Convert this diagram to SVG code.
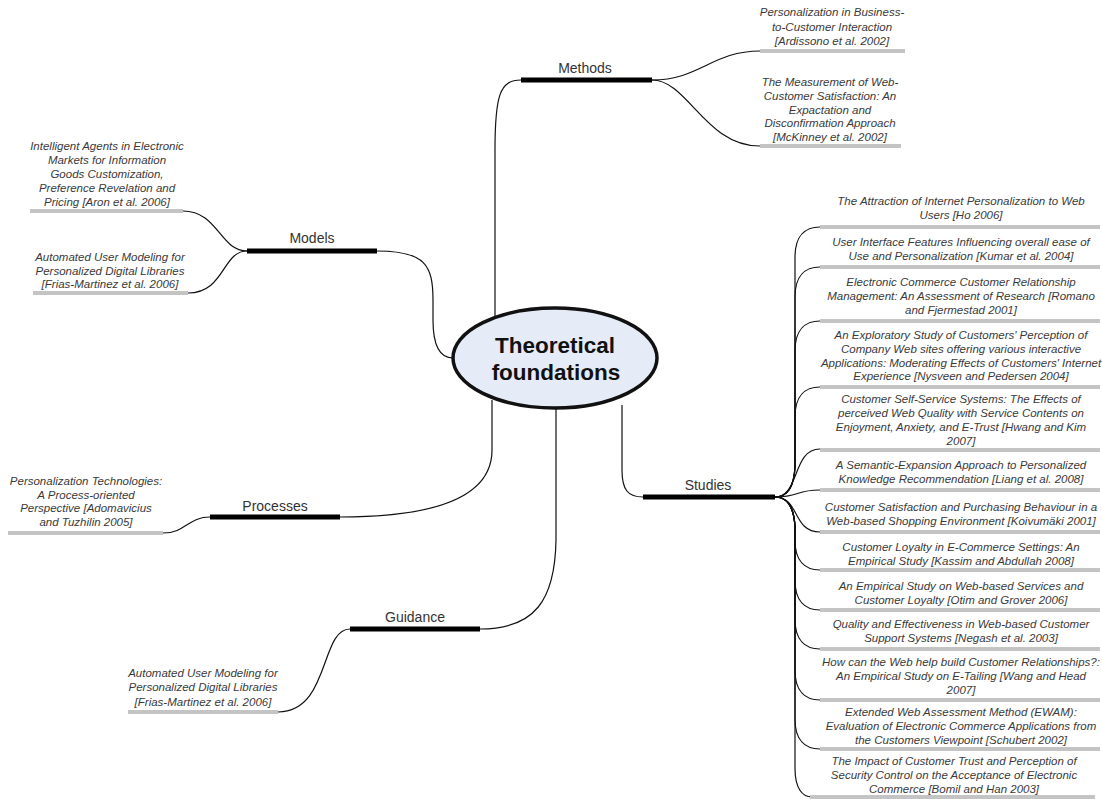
<svg xmlns="http://www.w3.org/2000/svg" width="1102" height="799" viewBox="0 0 1102 799">
<style>
.bg{fill:#ffffff}
.c{fill:none;stroke:#111;stroke-width:1.2}
.bar{stroke:#000;stroke-width:5}
.ul{stroke:#c4c4c4;stroke-width:4}
.t{font-family:"Liberation Sans",Arial,sans-serif;font-size:11.5px;font-style:italic;fill:#3a3a3a;text-anchor:middle}
.h{font-family:"Liberation Sans",Arial,sans-serif;font-size:14px;fill:#333;text-anchor:middle}
.title{font-family:"Liberation Sans",Arial,sans-serif;font-size:22.5px;font-weight:bold;fill:#111;text-anchor:middle}
.root{fill:#e5ebf7;stroke:#111;stroke-width:3.5}
</style>
<rect class="bg" x="0" y="0" width="1102" height="799"/>
<g id="connectors">
  <path class="c" d="M495,320 L495,150 C495,95 500,80 521,80"/>
  <path class="c" d="M377,251 C425,251 433,265 433,300 L433,320 C433,347 440,358 453,358"/>
  <path class="c" d="M492,400 L492,450 C492,495 440,517 340,517"/>
  <path class="c" d="M556,405 L556,540 C555,600 535,629 480,629"/>
  <path class="c" d="M622,405 L622,470 C622,490 628,497 643,497"/>
  <path class="c" d="M652,80 C700,80 712,51 760,51"/>
  <path class="c" d="M652,80 C688,80 705,146 760,146"/>
  <path class="c" d="M247,251 C220,251 218,211 183,211"/>
  <path class="c" d="M247,251 C222,251 225,293 188,293"/>
  <path class="c" d="M210,517 C188,517 186,533 163,533"/>
  <path class="c" d="M350,629 C320,629 330,712 278,712"/>
  <path class="c" d="M775,497 C788,497 794,487 795,467 L795,257 C795,236 805,227 820,227"/>
  <path class="c" d="M775,497 C788,497 794,487 795,467 L795,297 C795,276 805,267 820,267"/>
  <path class="c" d="M775,497 C788,497 794,487 795,467 L795,351 C795,330 805,321 820,321"/>
  <path class="c" d="M775,497 C788,497 794,487 795,467 L795,417 C795,396 805,387 820,387"/>
  <path class="c" d="M775,497 C800,497 792,449 820,449"/>
  <path class="c" d="M775,497 C800,497 795,490 820,490"/>
  <path class="c" d="M775,497 C800,497 792,532 820,532"/>
  <path class="c" d="M775,497 C788,497 794,507 795,527 L795,540 C795,561 805,570 820,570"/>
  <path class="c" d="M775,497 C788,497 794,507 795,527 L795,580 C795,601 805,610 820,610"/>
  <path class="c" d="M775,497 C788,497 794,507 795,527 L795,619 C795,640 805,649 820,649"/>
  <path class="c" d="M775,497 C788,497 794,507 795,527 L795,670 C795,691 805,700 820,700"/>
  <path class="c" d="M775,497 C788,497 794,507 795,527 L795,719 C795,740 805,749 820,749"/>
  <path class="c" d="M775,497 C788,497 794,507 795,527 L795,768 C795,788 802,797 812,797"/>
</g>
<g id="root">
  <ellipse class="root" cx="555" cy="358" rx="102" ry="50"/>
  <text class="title" x="555" y="353">Theoretical</text>
  <text class="title" x="556" y="380">foundations</text>
</g>
<g id="methods">
  <line class="bar" x1="521" y1="80" x2="652" y2="80"/>
  <text class="h" x="585" y="73">Methods</text>
</g>
<g id="methods-1">
  <line class="ul" x1="760" y1="51" x2="905" y2="51"/>
  <text class="t" x="832" y="16"><tspan x="832">Personalization in Business-</tspan><tspan x="832" dy="14.5">to-Customer Interaction</tspan><tspan x="832" dy="14.5">[Ardissono et al. 2002]</tspan></text>
</g>
<g id="methods-2">
  <line class="ul" x1="760" y1="146" x2="901" y2="146"/>
  <text class="t" x="830" y="86"><tspan x="830">The Measurement of Web-</tspan><tspan x="830" dy="13.8">Customer Satisfaction: An</tspan><tspan x="830" dy="13.8">Expactation and</tspan><tspan x="830" dy="13.8">Disconfirmation Approach</tspan><tspan x="830" dy="13.8">[McKinney et al. 2002]</tspan></text>
</g>
<g id="models">
  <line class="bar" x1="247" y1="251" x2="377" y2="251"/>
  <text class="h" x="312" y="243">Models</text>
</g>
<g id="models-1">
  <line class="ul" x1="30" y1="211" x2="183" y2="211"/>
  <text class="t" x="107" y="150"><tspan x="107">Intelligent Agents in Electronic</tspan><tspan x="107" dy="14">Markets for Information</tspan><tspan x="107" dy="14">Goods Customization,</tspan><tspan x="107" dy="14">Preference Revelation and</tspan><tspan x="107" dy="14">Pricing [Aron et al. 2006]</tspan></text>
</g>
<g id="models-2">
  <line class="ul" x1="33" y1="293" x2="188" y2="293"/>
  <text class="t" x="110" y="261"><tspan x="110">Automated User Modeling for</tspan><tspan x="110" dy="13.5">Personalized Digital Libraries</tspan><tspan x="110" dy="13.5">[Frias-Martinez et al. 2006]</tspan></text>
</g>
<g id="processes">
  <line class="bar" x1="210" y1="517" x2="340" y2="517"/>
  <text class="h" x="275" y="511">Processes</text>
</g>
<g id="processes-1">
  <line class="ul" x1="8" y1="533" x2="163" y2="533"/>
  <text class="t" x="86" y="485"><tspan x="86">Personalization Technologies:</tspan><tspan x="86" dy="13.7">A Process-oriented</tspan><tspan x="86" dy="13.7">Perspective [Adomavicius</tspan><tspan x="86" dy="13.7">and Tuzhilin 2005]</tspan></text>
</g>
<g id="guidance">
  <line class="bar" x1="350" y1="629" x2="480" y2="629"/>
  <text class="h" x="415" y="622">Guidance</text>
</g>
<g id="guidance-1">
  <line class="ul" x1="128" y1="712" x2="278" y2="712"/>
  <text class="t" x="203" y="677"><tspan x="203">Automated User Modeling for</tspan><tspan x="203" dy="14.3">Personalized Digital Libraries</tspan><tspan x="203" dy="14.3">[Frias-Martinez et al. 2006]</tspan></text>
</g>
<g id="studies">
  <line class="bar" x1="643" y1="497" x2="775" y2="497"/>
  <text class="h" x="708" y="490">Studies</text>
</g>
<g id="studies-1">
  <line class="ul" x1="820" y1="227" x2="1100" y2="227"/>
  <text class="t" x="961" y="205"><tspan x="961">The Attraction of Internet Personalization to Web</tspan><tspan x="961" dy="14">Users [Ho 2006]</tspan></text>
</g>
<g id="studies-2">
  <line class="ul" x1="820" y1="267" x2="1100" y2="267"/>
  <text class="t" x="961" y="246"><tspan x="961">User Interface Features Influencing overall ease of</tspan><tspan x="961" dy="14">Use and Personalization [Kumar et al. 2004]</tspan></text>
</g>
<g id="studies-3">
  <line class="ul" x1="820" y1="321" x2="1100" y2="321"/>
  <text class="t" x="961" y="286"><tspan x="961">Electronic Commerce Customer Relationship</tspan><tspan x="961" dy="14">Management: An Assessment of Research [Romano</tspan><tspan x="961" dy="14">and Fjermestad 2001]</tspan></text>
</g>
<g id="studies-4">
  <line class="ul" x1="820" y1="387" x2="1100" y2="387"/>
  <text class="t" x="961" y="339"><tspan x="961">An Exploratory Study of Customers' Perception of</tspan><tspan x="961" dy="13.8">Company Web sites offering various interactive</tspan><tspan x="961" dy="13.8">Applications: Moderating Effects of Customers' Internet</tspan><tspan x="961" dy="13.8">Experience [Nysveen and Pedersen 2004]</tspan></text>
</g>
<g id="studies-5">
  <line class="ul" x1="820" y1="450" x2="1100" y2="450"/>
  <text class="t" x="961" y="403"><tspan x="961">Customer Self-Service Systems: The Effects of</tspan><tspan x="961" dy="14">perceived Web Quality with Service Contents on</tspan><tspan x="961" dy="14">Enjoyment, Anxiety, and E-Trust [Hwang and Kim</tspan><tspan x="961" dy="14">2007]</tspan></text>
</g>
<g id="studies-6">
  <line class="ul" x1="820" y1="490" x2="1100" y2="490"/>
  <text class="t" x="961" y="469"><tspan x="961">A Semantic-Expansion Approach to Personalized</tspan><tspan x="961" dy="14">Knowledge Recommendation [Liang et al. 2008]</tspan></text>
</g>
<g id="studies-7">
  <line class="ul" x1="820" y1="532" x2="1100" y2="532"/>
  <text class="t" x="961" y="511"><tspan x="961">Customer Satisfaction and Purchasing Behaviour in a</tspan><tspan x="961" dy="14">Web-based Shopping Environment [Koivumäki 2001]</tspan></text>
</g>
<g id="studies-8">
  <line class="ul" x1="820" y1="570" x2="1100" y2="570"/>
  <text class="t" x="961" y="551"><tspan x="961">Customer Loyalty in E-Commerce Settings: An</tspan><tspan x="961" dy="14">Empirical Study [Kassim and Abdullah 2008]</tspan></text>
</g>
<g id="studies-9">
  <line class="ul" x1="820" y1="610" x2="1100" y2="610"/>
  <text class="t" x="961" y="590"><tspan x="961">An Empirical Study on Web-based Services and</tspan><tspan x="961" dy="14">Customer Loyalty [Otim and Grover 2006]</tspan></text>
</g>
<g id="studies-10">
  <line class="ul" x1="820" y1="649" x2="1100" y2="649"/>
  <text class="t" x="961" y="628"><tspan x="961">Quality and Effectiveness in Web-based Customer</tspan><tspan x="961" dy="14">Support Systems [Negash et al. 2003]</tspan></text>
</g>
<g id="studies-11">
  <line class="ul" x1="820" y1="700" x2="1100" y2="700"/>
  <text class="t" x="961" y="666"><tspan x="961">How can the Web help build Customer Relationships?:</tspan><tspan x="961" dy="14">An Empirical Study on E-Tailing [Wang and Head</tspan><tspan x="961" dy="14">2007]</tspan></text>
</g>
<g id="studies-12">
  <line class="ul" x1="820" y1="749" x2="1100" y2="749"/>
  <text class="t" x="961" y="716"><tspan x="961">Extended Web Assessment Method (EWAM):</tspan><tspan x="961" dy="14">Evaluation of Electronic Commerce Applications from</tspan><tspan x="961" dy="14">the Customers Viewpoint [Schubert 2002]</tspan></text>
</g>
<g id="studies-13">
  <line class="ul" x1="810" y1="797" x2="1095" y2="797"/>
  <text class="t" x="954" y="765"><tspan x="954">The Impact of Customer Trust and Perception of</tspan><tspan x="954" dy="14">Security Control on the Acceptance of Electronic</tspan><tspan x="954" dy="14">Commerce [Bomil and Han 2003]</tspan></text>
</g>
</svg>
